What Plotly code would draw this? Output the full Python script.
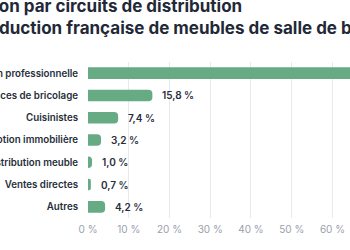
import plotly.graph_objects as go

categories = ["Distribution professionnelle", "Grandes surfaces de bricolage", "Cuisinistes",
              "Promotion immobilière", "Distribution meuble", "Ventes directes", "Autres"]
values = [67.7, 15.8, 7.4, 3.2, 1.0, 0.7, 4.2]
value_labels = ["67,7 %", "15,8 %", "7,4 %", "3,2 %", "1,0 %", "0,7 %", "4,2 %"]
tick_vals = [0, 10, 20, 30, 40, 50, 60, 70]
tick_text = ["0 %", "10 %", "20 %", "30 %", "40 %", "50 %", "60 %", "70 %"]
title_text = ("Répartition par circuits de distribution<br>"
              "de la production française de meubles de salle de bains")

GREEN = "#67ab85"
DARK = "#1f2937"
LABEL = "#262e3a"

fig = go.Figure(go.Bar(
    x=values, y=categories, orientation="h",
    marker=dict(color=GREEN, cornerradius=4, line=dict(width=0)),
    width=0.52, hoverinfo="skip",
))

for v, lab, c in zip(values, value_labels, categories):
    fig.add_annotation(x=v, y=c, xref="x", yref="y", text=lab, showarrow=False,
                       xanchor="left", xshift=8,
                       font=dict(family="Inter", size=10, color=LABEL, weight=600))

fig.add_annotation(x=0, y=1, xref="paper", yref="paper", text=title_text, showarrow=False,
                   xanchor="left", yanchor="bottom", align="left", xshift=-162, yshift=22,
                   font=dict(family="Inter", size=17, color=DARK, weight=700))

fig.update_layout(
    width=350, height=250,
    margin=dict(l=88, r=0, t=62, b=32),
    paper_bgcolor="white", plot_bgcolor="white",
    showlegend=False,
    bargap=0.48,
    xaxis=dict(range=[0, 64.3], tickvals=tick_vals, ticktext=tick_text,
               showgrid=True, gridcolor="#e8e9ee", gridwidth=1, zeroline=False,
               showline=False, ticks="outside", ticklen=2, tickcolor="rgba(0,0,0,0)",
               automargin=False,
               tickfont=dict(family="Inter", size=10, color="#9aa0ab")),
    yaxis=dict(autorange="reversed", automargin=False, showgrid=False, zeroline=False,
               showline=False, ticks="outside", ticklen=7, tickcolor="rgba(0,0,0,0)",
               tickfont=dict(family="Inter", size=9.75, color=LABEL, weight=600)),
)

fig.write_html("out.html")
